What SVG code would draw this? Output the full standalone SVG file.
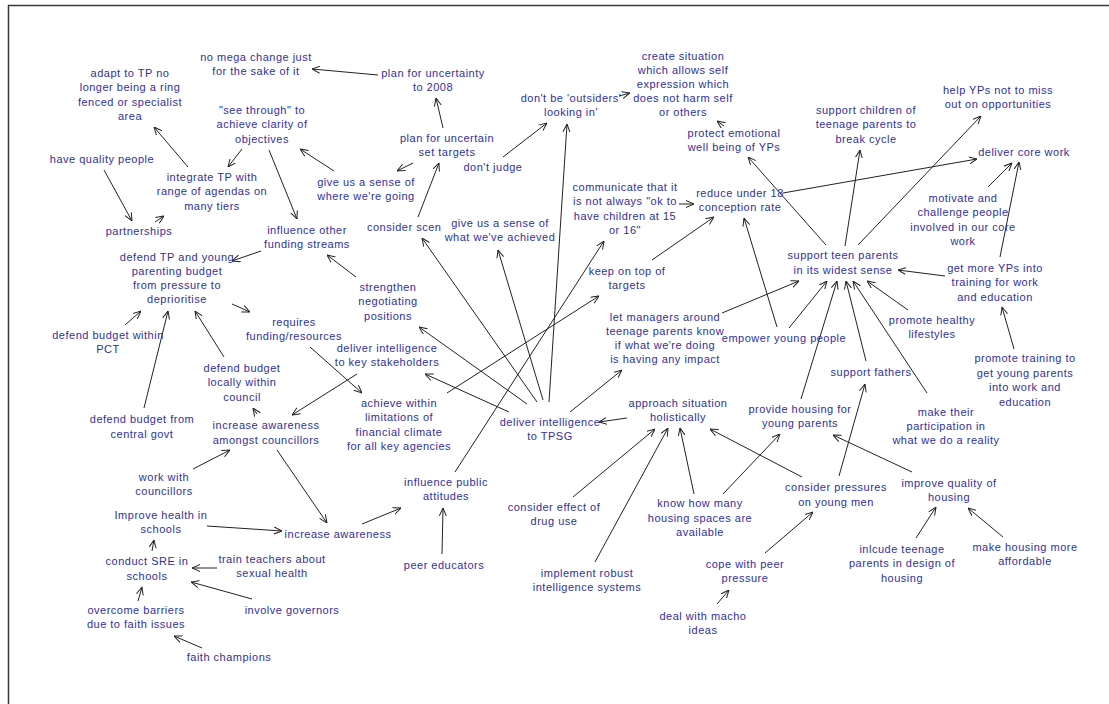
<svg xmlns="http://www.w3.org/2000/svg" width="1109" height="704" viewBox="0 0 1109 704">
<style>
.t{font-family:"Liberation Sans",Arial,sans-serif;font-size:11px;letter-spacing:0.5px;fill:#30309c;text-anchor:middle}
.s{text-anchor:start}
#edges line{stroke:#222;stroke-width:1;marker-end:url(#a)}
</style>
<defs>
<marker id="a" viewBox="0 0 8 8" refX="8" refY="4" markerWidth="8" markerHeight="8" markerUnits="userSpaceOnUse" orient="auto">
<path d="M0,0.5 L8,4 L0,7.5" fill="none" stroke="#222" stroke-width="1"/>
</marker>
</defs>
<rect x="0" y="0" width="1109" height="704" fill="#fff"/>
<rect x="8.5" y="5.5" width="1200" height="800" fill="none" stroke="#3a3a3a" stroke-width="1.5"/>
<g id="edges">
<line x1="188" y1="167" x2="154" y2="127"/>
<line x1="242" y1="149" x2="228" y2="167"/>
<line x1="269" y1="150" x2="297" y2="219"/>
<line x1="334" y1="171" x2="300" y2="149"/>
<line x1="104" y1="170" x2="132" y2="221"/>
<line x1="155" y1="222" x2="164" y2="216"/>
<line x1="378" y1="75" x2="312" y2="69"/>
<line x1="443" y1="128" x2="436" y2="98"/>
<line x1="413" y1="163" x2="397" y2="171"/>
<line x1="418" y1="217" x2="439" y2="163"/>
<line x1="503" y1="157" x2="547" y2="123"/>
<line x1="619" y1="96" x2="630" y2="93"/>
<line x1="724" y1="126" x2="717" y2="121"/>
<line x1="679" y1="204" x2="694" y2="204"/>
<line x1="652" y1="260" x2="714" y2="217"/>
<line x1="783" y1="193" x2="977" y2="159"/>
<line x1="826" y1="245" x2="748" y2="157"/>
<line x1="845" y1="246" x2="860" y2="150"/>
<line x1="858" y1="245" x2="981" y2="116"/>
<line x1="988" y1="187" x2="1012" y2="163"/>
<line x1="1000" y1="257" x2="1019" y2="162"/>
<line x1="945" y1="276" x2="898" y2="270"/>
<line x1="908" y1="310" x2="867" y2="281"/>
<line x1="1014" y1="349" x2="1002" y2="307"/>
<line x1="927" y1="393" x2="853" y2="281"/>
<line x1="866" y1="361" x2="846" y2="281"/>
<line x1="801" y1="399" x2="837" y2="281"/>
<line x1="789" y1="328" x2="827" y2="281"/>
<line x1="777" y1="327" x2="744" y2="218"/>
<line x1="722" y1="313" x2="799" y2="281"/>
<line x1="839" y1="476" x2="865" y2="384"/>
<line x1="912" y1="472" x2="833" y2="435"/>
<line x1="723" y1="494" x2="780" y2="434"/>
<line x1="694" y1="494" x2="680" y2="428"/>
<line x1="802" y1="477" x2="710" y2="429"/>
<line x1="573" y1="497" x2="655" y2="429"/>
<line x1="595" y1="562" x2="668" y2="428"/>
<line x1="765" y1="553" x2="813" y2="512"/>
<line x1="717" y1="604" x2="729" y2="590"/>
<line x1="916" y1="538" x2="936" y2="507"/>
<line x1="1003" y1="537" x2="968" y2="508"/>
<line x1="627" y1="418" x2="599" y2="422"/>
<line x1="549" y1="402" x2="567" y2="124"/>
<line x1="543" y1="400" x2="498" y2="250"/>
<line x1="537" y1="402" x2="422" y2="238"/>
<line x1="527" y1="404" x2="419" y2="327"/>
<line x1="509" y1="412" x2="425" y2="374"/>
<line x1="455" y1="472" x2="604" y2="241"/>
<line x1="570" y1="412" x2="622" y2="370"/>
<line x1="447" y1="393" x2="599" y2="296"/>
<line x1="310" y1="347" x2="362" y2="393"/>
<line x1="357" y1="374" x2="292" y2="415"/>
<line x1="232" y1="304" x2="250" y2="312"/>
<line x1="261" y1="251" x2="232" y2="261"/>
<line x1="356" y1="277" x2="327" y2="255"/>
<line x1="125" y1="325" x2="141" y2="311"/>
<line x1="144" y1="408" x2="168" y2="311"/>
<line x1="224" y1="357" x2="195" y2="311"/>
<line x1="257" y1="414" x2="253" y2="408"/>
<line x1="193" y1="469" x2="230" y2="450"/>
<line x1="277" y1="450" x2="327" y2="523"/>
<line x1="207" y1="526" x2="282" y2="531"/>
<line x1="362" y1="524" x2="401" y2="508"/>
<line x1="442" y1="554" x2="443" y2="508"/>
<line x1="152" y1="551" x2="154" y2="540"/>
<line x1="217" y1="568" x2="192" y2="568"/>
<line x1="252" y1="599" x2="191" y2="582"/>
<line x1="138" y1="601" x2="142" y2="587"/>
<line x1="202" y1="648" x2="174" y2="636"/>
</g>
<g id="n1"><text class="t" y="61"><tspan x="256">no mega change just</tspan><tspan x="256" dy="14.3">for the sake of it</tspan></text></g>
<g id="n2"><text class="t" y="77"><tspan x="130">adapt to TP no</tspan><tspan x="130" dy="14.3">longer being a ring</tspan><tspan x="130" dy="14.3">fenced or specialist</tspan><tspan x="130" dy="14.3">area</tspan></text></g>
<g id="n3"><text class="t" y="114"><tspan x="262">"see through" to</tspan><tspan x="262" dy="14.3">achieve clarity of</tspan><tspan x="262" dy="14.3">objectives</tspan></text></g>
<g id="n4"><text class="t" x="102" y="163">have quality people</text></g>
<g id="n5"><text class="t" y="181"><tspan x="212">integrate TP with</tspan><tspan x="212" dy="14.3">range of agendas on</tspan><tspan x="212" dy="14.3">many tiers</tspan></text></g>
<g id="n6"><text class="t" x="139" y="235">partnerships</text></g>
<g id="n7"><text class="t" y="186"><tspan x="366">give us a sense of</tspan><tspan x="366" dy="14.3">where we're going</tspan></text></g>
<g id="n8"><text class="t" y="77"><tspan x="433">plan for uncertainty</tspan><tspan x="433" dy="14.3">to 2008</tspan></text></g>
<g id="n9"><text class="t" y="142"><tspan x="447">plan for uncertain</tspan><tspan x="447" dy="14.3">set targets</tspan></text></g>
<g id="n10"><text class="t" x="493" y="171">don't judge</text></g>
<g id="n11"><text class="t" y="102"><tspan x="571">don't be 'outsiders'</tspan><tspan x="571" dy="14.3">looking in'</tspan></text></g>
<g id="n12"><text class="t" y="60"><tspan x="683">create situation</tspan><tspan x="683" dy="14">which allows self</tspan><tspan x="683" dy="14">expression which</tspan><tspan x="683" dy="14">does not harm self</tspan><tspan x="683" dy="14">or others</tspan></text></g>
<g id="n13"><text class="t" y="137"><tspan x="734">protect emotional</tspan><tspan x="734" dy="14.3">well being of YPs</tspan></text></g>
<g id="n14"><text class="t" y="114"><tspan x="866">support children of</tspan><tspan x="866" dy="14.3">teenage parents to</tspan><tspan x="866" dy="14.3">break cycle</tspan></text></g>
<g id="n15"><text class="t" y="94"><tspan x="998">help YPs not to miss</tspan><tspan x="998" dy="14.3">out on opportunities</tspan></text></g>
<g id="n16"><text class="t" x="1024" y="156">deliver core work</text></g>
<g id="n17"><text class="t" y="202"><tspan x="963">motivate and</tspan><tspan x="963" dy="14.3">challenge people</tspan><tspan x="963" dy="14.3">involved in our core</tspan><tspan x="963" dy="14.3">work</tspan></text></g>
<g id="n18"><text class="t" y="191"><tspan x="625">communicate that it</tspan><tspan x="625" dy="14.3">is not always "ok to</tspan><tspan x="625" dy="14.3">have children at 15</tspan><tspan x="625" dy="14.3">or 16"</tspan></text></g>
<g id="n19"><text class="t" y="197"><tspan x="740">reduce under 18</tspan><tspan x="740" dy="14.3">conception rate</tspan></text></g>
<g id="n20"><text class="t s" x="367" y="231">consider scen</text></g>
<g id="n21"><text class="t" y="227"><tspan x="500">give us a sense of</tspan><tspan x="500" dy="14.3">what we've achieved</tspan></text></g>
<g id="n22"><text class="t" y="234"><tspan x="307">influence other</tspan><tspan x="307" dy="14.3">funding streams</tspan></text></g>
<g id="n23"><text class="t" y="261"><tspan x="177">defend TP and young</tspan><tspan x="177" dy="14">parenting budget</tspan><tspan x="177" dy="14">from pressure to</tspan><tspan x="177" dy="14">deprioritise</tspan></text></g>
<g id="n24"><text class="t" y="291"><tspan x="388">strengthen</tspan><tspan x="388" dy="14.3">negotiating</tspan><tspan x="388" dy="14.3">positions</tspan></text></g>
<g id="n25"><text class="t" y="326"><tspan x="294">requires</tspan><tspan x="294" dy="14.3">funding/resources</tspan></text></g>
<g id="n26"><text class="t" y="339"><tspan x="108">defend budget within</tspan><tspan x="108" dy="14.3">PCT</tspan></text></g>
<g id="n27"><text class="t" y="352"><tspan x="387">deliver intelligence</tspan><tspan x="387" dy="14.3">to key stakeholders</tspan></text></g>
<g id="n28"><text class="t" y="372"><tspan x="242">defend budget</tspan><tspan x="242" dy="14.3">locally within</tspan><tspan x="242" dy="14.3">council</tspan></text></g>
<g id="n29"><text class="t" y="407"><tspan x="399">achieve within</tspan><tspan x="399" dy="14.3">limitations of</tspan><tspan x="399" dy="14.3">financial climate</tspan><tspan x="399" dy="14.3">for all key agencies</tspan></text></g>
<g id="n30"><text class="t" y="426"><tspan x="550">deliver intelligence</tspan><tspan x="550" dy="14">to TPSG</tspan></text></g>
<g id="n31"><text class="t" y="275"><tspan x="627">keep on top of</tspan><tspan x="627" dy="14.3">targets</tspan></text></g>
<g id="n32"><text class="t" y="321"><tspan x="665">let managers around</tspan><tspan x="665" dy="14">teenage parents know</tspan><tspan x="665" dy="14">if what we're doing</tspan><tspan x="665" dy="14">is having any impact</tspan></text></g>
<g id="n33"><text class="t" x="784" y="342">empower young people</text></g>
<g id="n34"><text class="t" y="259"><tspan x="843">support teen parents</tspan><tspan x="843" dy="14.7">in its widest sense</tspan></text></g>
<g id="n35"><text class="t" y="272"><tspan x="995">get more YPs into</tspan><tspan x="995" dy="14.3">training for work</tspan><tspan x="995" dy="14.3">and education</tspan></text></g>
<g id="n36"><text class="t" y="324"><tspan x="932">promote healthy</tspan><tspan x="932" dy="14.3">lifestyles</tspan></text></g>
<g id="n37"><text class="t" y="362"><tspan x="1025">promote training to</tspan><tspan x="1025" dy="14.5">get young parents</tspan><tspan x="1025" dy="14.5">into work and</tspan><tspan x="1025" dy="14.5">education</tspan></text></g>
<g id="n38"><text class="t" x="871" y="376">support fathers</text></g>
<g id="n39"><text class="t" y="413"><tspan x="800">provide housing for</tspan><tspan x="800" dy="14.3">young parents</tspan></text></g>
<g id="n40"><text class="t" y="416"><tspan x="946">make their</tspan><tspan x="946" dy="14.3">participation in</tspan><tspan x="946" dy="14">what we do a reality</tspan></text></g>
<g id="n41"><text class="t" y="407"><tspan x="678">approach situation</tspan><tspan x="678" dy="14">holistically</tspan></text></g>
<g id="n42"><text class="t" y="429"><tspan x="266">increase awareness</tspan><tspan x="266" dy="14.7">amongst councillors</tspan></text></g>
<g id="n43"><text class="t" y="423"><tspan x="142">defend budget from</tspan><tspan x="142" dy="14.5">central govt</tspan></text></g>
<g id="n44"><text class="t" y="481"><tspan x="164">work with</tspan><tspan x="164" dy="14">councillors</tspan></text></g>
<g id="n45"><text class="t" y="519"><tspan x="161">Improve health in</tspan><tspan x="161" dy="14.3">schools</tspan></text></g>
<g id="n46"><text class="t" x="338" y="538">increase awareness</text></g>
<g id="n47"><text class="t" y="486"><tspan x="446">influence public</tspan><tspan x="446" dy="14.3">attitudes</tspan></text></g>
<g id="n48"><text class="t" x="444" y="569">peer educators</text></g>
<g id="n49"><text class="t" y="565"><tspan x="147">conduct SRE in</tspan><tspan x="147" dy="14.5">schools</tspan></text></g>
<g id="n50"><text class="t" y="563"><tspan x="272">train teachers about</tspan><tspan x="272" dy="14">sexual health</tspan></text></g>
<g id="n51"><text class="t" x="292" y="614">involve governors</text></g>
<g id="n52"><text class="t" y="614"><tspan x="136">overcome barriers</tspan><tspan x="136" dy="14">due to faith issues</tspan></text></g>
<g id="n53"><text class="t" x="229" y="661">faith champions</text></g>
<g id="n54"><text class="t" y="511"><tspan x="554">consider effect of</tspan><tspan x="554" dy="14.3">drug use</tspan></text></g>
<g id="n55"><text class="t" y="577"><tspan x="587">implement robust</tspan><tspan x="587" dy="14">intelligence systems</tspan></text></g>
<g id="n56"><text class="t" y="507"><tspan x="700">know how many</tspan><tspan x="700" dy="14.5">housing spaces are</tspan><tspan x="700" dy="14.5">available</tspan></text></g>
<g id="n57"><text class="t" y="568"><tspan x="745">cope with peer</tspan><tspan x="745" dy="14">pressure</tspan></text></g>
<g id="n58"><text class="t" y="620"><tspan x="703">deal with macho</tspan><tspan x="703" dy="13.5">ideas</tspan></text></g>
<g id="n59"><text class="t" y="491"><tspan x="836">consider pressures</tspan><tspan x="836" dy="14.5">on young men</tspan></text></g>
<g id="n60"><text class="t" y="487"><tspan x="949">improve quality of</tspan><tspan x="949" dy="14">housing</tspan></text></g>
<g id="n61"><text class="t" y="553"><tspan x="902">inlcude teenage</tspan><tspan x="902" dy="14">parents in design of</tspan><tspan x="902" dy="14.5">housing</tspan></text></g>
<g id="n62"><text class="t" y="551"><tspan x="1025">make housing more</tspan><tspan x="1025" dy="14.3">affordable</tspan></text></g>
</svg>
